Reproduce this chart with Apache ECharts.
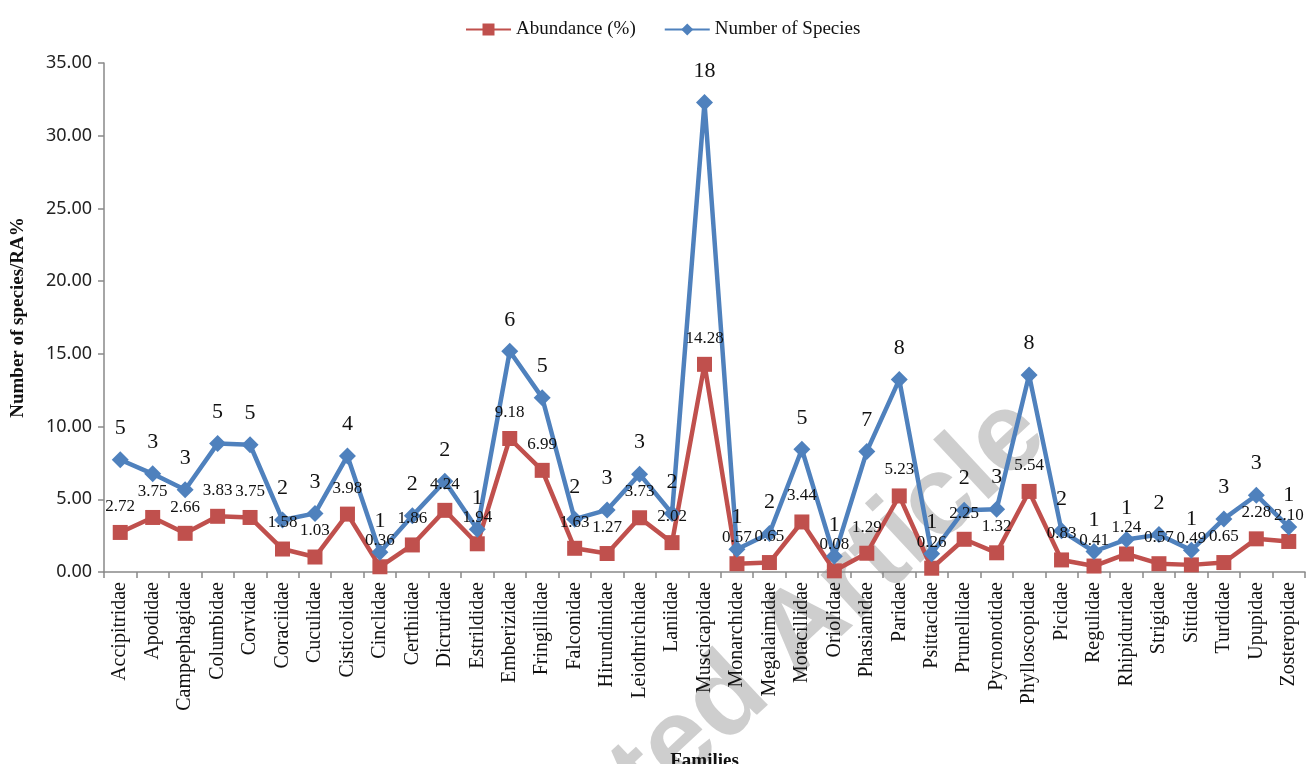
<!DOCTYPE html>
<html>
<head>
<meta charset="utf-8">
<script src="https://cdn.jsdelivr.net/npm/echarts@6/dist/echarts.min.js"></script>
<style>
    html, body { margin: 0; padding: 0; background: #fff; }
    #chart { width: 1307px; height: 764px; }
</style>
</head>
<body>
<div id="chart"></div>
<script>
// bird families (x axis)
var families = ['Accipitridae', 'Apodidae', 'Campephagidae', 'Columbidae', 'Corvidae', 'Coraciidae',
    'Cuculidae', 'Cisticolidae', 'Cinclidae', 'Certhiidae', 'Dicruridae', 'Estrildidae', 'Emberizidae',
    'Fringillidae', 'Falconidae', 'Hirundinidae', 'Leiothrichidae', 'Laniidae', 'Muscicapidae',
    'Monarchidae', 'Megalaimidae', 'Motacillidae', 'Oriolidae', 'Phasianidae', 'Paridae', 'Psittacidae',
    'Prunellidae', 'Pycnonotidae', 'Phylloscopidae', 'Picidae', 'Regulidae', 'Rhipiduridae', 'Strigidae',
    'Sittidae', 'Turdidae', 'Upupidae', 'Zosteropidae'];

// relative abundance (%)
var abundance = [2.72, 3.75, 2.66, 3.83, 3.75, 1.58, 1.03, 3.98, 0.36, 1.86, 4.24, 1.94, 9.18,
    6.99, 1.63, 1.27, 3.73, 2.02, 14.28, 0.57, 0.65, 3.44, 0.08, 1.29, 5.23, 0.26,
    2.25, 1.32, 5.54, 0.83, 0.41, 1.24, 0.57, 0.49, 0.65, 2.28, 2.10];

// number of species (stacked on top of abundance, like the excel original)
var species = [5, 3, 3, 5, 5, 2, 3, 4, 1, 2, 2, 1, 6, 5, 2, 3, 3, 2, 18, 1, 2, 5, 1, 7, 8, 1,
    2, 3, 8, 2, 1, 1, 2, 1, 3, 3, 1];

var yTicks = [0, 5, 10, 15, 20, 25, 30, 35];

var serif = '"Liberation Serif", "Times New Roman", serif';
var sans = '"Noto Sans", "Open Sans", sans-serif';
var axisGrey = '#898989';

var myChart = echarts.init(document.getElementById('chart'));

var option = {
    backgroundColor: '#fff',
    animation: false,
    graphic: [{
        type: 'text',
        z: -10,
        x: 1030,
        y: 418,
        rotation: 43 * Math.PI / 180,
        style: {
            text: 'Accepted Article',
            fill: 'rgba(190, 190, 190, 0.75)',
            font: 'bold 112px "Liberation Sans", Arial, sans-serif',
            align: 'right',
            verticalAlign: 'middle'
        }
    }],
    legend: {
        left: 460,
        top: 15,
        itemWidth: 45,
        itemHeight: 15,
        itemGap: 28,
        textStyle: {
            fontFamily: serif,
            fontSize: 19,
            color: '#111'
        },
        data: ['Abundance (%)', 'Number of Species']
    },
    grid: {
        left: 104,
        right: 2,
        top: 63,
        bottom: 192,
        outerBoundsMode: 'none'
    },
    xAxis: {
        type: 'category',
        boundaryGap: true,
        data: families,
        name: 'Families',
        nameLocation: 'middle',
        nameGap: 180,
        nameTextStyle: {
            fontFamily: serif,
            fontWeight: 'bold',
            fontSize: 19,
            color: '#111'
        },
        axisLine: { lineStyle: { color: axisGrey, width: 1.5 } },
        axisTick: { show: true, length: 6, lineStyle: { color: axisGrey, width: 1.5 } },
        axisLabel: {
            rotate: 90,
            interval: 0,
            margin: 10,
            fontFamily: serif,
            fontSize: 20,
            color: '#111'
        }
    },
    yAxis: {
        type: 'value',
        min: yTicks[0],
        max: yTicks[yTicks.length - 1],
        interval: 5,
        name: 'Number of species/RA%',
        nameLocation: 'middle',
        nameGap: 76,
        nameTextStyle: {
            fontFamily: serif,
            fontWeight: 'bold',
            fontSize: 19,
            color: '#111'
        },
        axisLine: { show: true, lineStyle: { color: axisGrey, width: 1.5 } },
        axisTick: { show: true, length: 6, lineStyle: { color: axisGrey, width: 1.5 } },
        splitLine: { show: false },
        axisLabel: {
            margin: 12,
            fontFamily: sans,
            fontSize: 18,
            color: '#222',
            formatter: function (v) { return v.toFixed(2); }
        }
    },
    series: [{
        name: 'Abundance (%)',
        type: 'line',
        stack: 'total',
        symbol: 'rect',
        symbolSize: 15,
        lineStyle: { width: 4.5, color: '#C0504D' },
        itemStyle: { color: '#C0504D' },
        label: {
            show: true,
            position: 'top',
            distance: 10,
            fontFamily: serif,
            fontSize: 17,
            color: '#111',
            formatter: function (p) { return p.value.toFixed(2); }
        },
        data: abundance
    }, {
        name: 'Number of Species',
        type: 'line',
        stack: 'total',
        symbol: 'diamond',
        symbolSize: 17,
        lineStyle: { width: 4.5, color: '#4F81BD' },
        itemStyle: { color: '#4F81BD' },
        label: {
            show: true,
            position: 'top',
            distance: 12,
            fontFamily: serif,
            fontSize: 22,
            color: '#111'
        },
        data: species
    }]
};

myChart.setOption(option);
</script>
</body>
</html>
